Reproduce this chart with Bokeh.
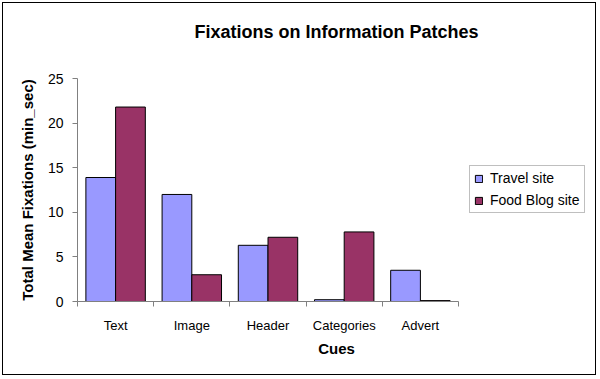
from bokeh.plotting import figure
from bokeh.models import ColumnDataSource, FixedTicker, Legend, LegendItem, Range1d, LinearAxis
from bokeh.transform import dodge
from bokeh.embed import file_html
from bokeh.resources import INLINE

cues = ["Text", "Image", "Header", "Categories", "Advert"]
travel = [13.9, 12.0, 6.3, 0.2, 3.5]
food = [21.8, 3.0, 7.2, 7.8, 0.1]
y_ticks = [0, 5, 10, 15, 20, 25]
title_text = "Fixations on Information Patches"

FONT = "Liberation Sans"

n = len(cues)
xpos = [i + 0.5 for i in range(n)]
src = ColumnDataSource(dict(x=xpos, travel=travel, food=food))

# plot frame extends to the right edge so the legend can sit inside it;
# the category axis itself spans only 381 of the 518 frame pixels
FW = 518
x_end = n * FW / 381
# centre of the whole figure, in data units, for centring the title
x_mid = (297 - 74) / FW * x_end

p = figure(width=594, height=373, output_backend="svg", toolbar_location=None,
           x_range=Range1d(0, x_end), y_range=Range1d(0, 25),
           min_border_left=74, min_border_right=2, min_border_top=75, min_border_bottom=75)
p.styles = {"border": "1px solid black", "margin": "2px"}
p.background_fill_color = "white"
p.border_fill_color = "white"
p.outline_line_color = None
p.xgrid.visible = False
p.ygrid.visible = False
p.title.text = ""

xa = p.below[0]
ya = p.left[0]

# chart title drawn as the label of a bare axis above the frame
ta = LinearAxis(ticker=FixedTicker(ticks=[], minor_ticks=[]), bounds=(0, 2 * x_mid),
                axis_line_color=None, major_tick_out=0, major_tick_in=0,
                minor_tick_out=0, minor_tick_in=0,
                major_tick_line_color=None, minor_tick_line_color=None)
ta.axis_label = title_text
ta.axis_label_text_font = FONT
ta.axis_label_text_font_size = "18px"
ta.axis_label_text_font_style = "bold"
ta.axis_label_text_color = "black"
ta.axis_label_standoff = 37
p.add_layout(ta, "above")

w = 0.39
r1 = p.vbar(x=dodge("x", -w / 2, range=p.x_range), top="travel", width=w, bottom=0,
            source=src, fill_color="#9999FF", line_color="black", line_width=1)
r2 = p.vbar(x=dodge("x", w / 2, range=p.x_range), top="food", width=w, bottom=0,
            source=src, fill_color="#993366", line_color="black", line_width=1)

xa.bounds = (0, n)
xa.ticker = FixedTicker(ticks=xpos, minor_ticks=list(range(n + 1)))
xa.major_label_overrides = {x: c for x, c in zip(xpos, cues)}
xa.major_tick_out = 0
xa.major_tick_in = 0
xa.minor_tick_out = 5
xa.minor_tick_in = 0
xa.minor_tick_line_color = "#808080"
xa.axis_line_color = "#808080"
xa.major_label_text_font = FONT
xa.major_label_text_font_size = "13px"
xa.major_label_text_color = "black"
xa.major_label_standoff = 11
xa.axis_label = "Cues"
xa.axis_label_text_font = FONT
xa.axis_label_text_font_size = "15px"
xa.axis_label_text_font_style = "bold"
xa.axis_label_text_color = "black"
xa.axis_label_standoff = 4

ya.ticker = FixedTicker(ticks=y_ticks, minor_ticks=[])
ya.major_tick_out = 5
ya.major_tick_in = 0
ya.major_tick_line_color = "#808080"
ya.axis_line_color = "#808080"
ya.major_label_text_font = FONT
ya.major_label_text_font_size = "14px"
ya.major_label_text_color = "black"
ya.major_label_standoff = 9
ya.axis_label = "Total Mean Fixations (min_sec)"
ya.axis_label_text_font = FONT
ya.axis_label_text_font_size = "15px"
ya.axis_label_text_font_style = "bold"
ya.axis_label_text_color = "black"
ya.axis_label_standoff = 9

legend = Legend(items=[LegendItem(label="Travel site", renderers=[r1]),
                       LegendItem(label="Food Blog site", renderers=[r2])],
                location=(392, 88))
legend.label_text_font = FONT
legend.label_text_font_size = "14px"
legend.label_text_color = "black"
legend.glyph_width = 9
legend.glyph_height = 9
legend.label_standoff = 7
legend.label_height = 16
legend.spacing = 6
legend.padding = 4
legend.margin = 0
legend.border_line_color = "#808080"
legend.border_line_width = 1
p.add_layout(legend, "center")

open("out.html", "w").write(file_html(p, INLINE))
